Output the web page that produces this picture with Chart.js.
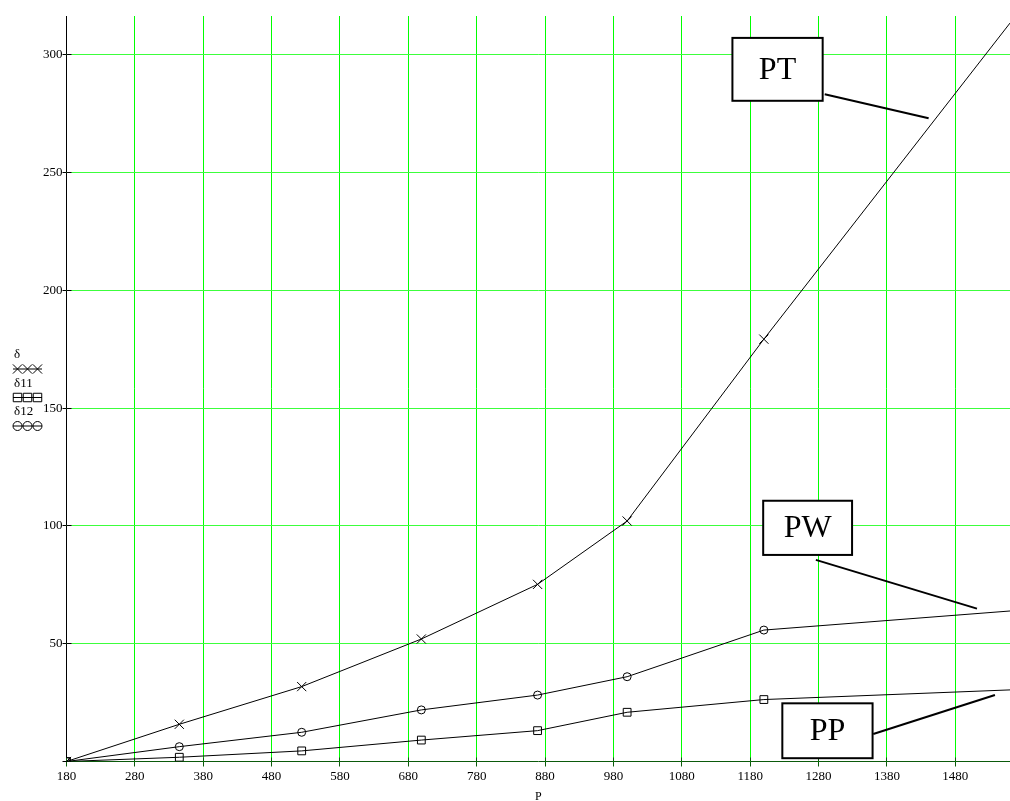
<!DOCTYPE html>
<html>
<head>
<meta charset="utf-8">
<script src="https://cdn.jsdelivr.net/npm/chart.js@4.4.1/dist/chart.umd.min.js"></script>
<style>
  html, body { margin: 0; padding: 0; background: #fff; overflow: hidden; }
  #wrap { width: 1010px; height: 801px; }
  canvas { display: block; }
</style>
</head>
<body>
<div id="wrap"><canvas id="myChart" width="1010" height="801"></canvas></div>
<script>
// P values; the last one is where the curves run out of the frame (no marker there)
const pValues = [180, 345, 524, 699, 869, 1000, 1200, 1560];
const delta   = [0, 15.8, 31.8, 52.0, 75.2, 102.1, 179.3, 313.5];
const delta11 = [0, 1.8, 4.5, 9.1, 13.1, 20.9, 26.3, 30.4];
const delta12 = [0, 6.3, 12.4, 21.9, 28.2, 36.0, 55.8, 63.9];
const markedCount = 7;

const seriesNames = ['δ', 'δ11', 'δ12'];
const xTicks = [180, 280, 380, 480, 580, 680, 780, 880, 980, 1080, 1180, 1280, 1380, 1480];
const yTicks = [0, 50, 100, 150, 200, 250, 300];
const xRange = [180, 1560];
const yRange = [0, 316.5];

// callouts: label, box (x1, y1, x2, y2) and leader line (x1, y1, x2, y2), in data units
const calloutLabels = ['PT', 'PW', 'PP'];
const calloutBoxes = [[1154, 307.2, 1286, 280.5], [1199, 110.7, 1329, 87.7], [1227, 24.7, 1359, 1.4]];
const calloutLeaders = [[1289, 283.3, 1441, 273.1], [1276, 85.6, 1511.7, 64.9], [1360, 11.7, 1538, 28.2]];

const serif = "'Liberation Serif', 'Times New Roman', serif";
const gridGreenV = '#00ff00';
const gridGreenH = '#3cff3c';
const axisGreen = '#0b5a0b';
const none = 'rgba(0,0,0,0)';

const markers = [
  { pointStyle: 'crossRot', radius: 6.5 },
  { pointStyle: 'rect', radius: 5.5 },
  { pointStyle: 'circle', radius: 4 }
];

function series(values, i) {
  return {
    label: seriesNames[i],
    data: pValues.map((p, k) => ({ x: p, y: values[k] })),
    borderColor: '#000',
    borderWidth: 1,
    tension: 0,
    pointStyle: markers[i].pointStyle,
    pointRadius: pValues.map((p, k) => k < markedCount ? markers[i].radius : 0),
    pointBorderColor: '#000',
    pointBorderWidth: 1,
    pointBackgroundColor: none,
    fill: false
  };
}

const al = v => Math.round(v - 0.5) + 0.5;

// green grid plus the short tick marks on the inside of the axes
const gridAndTicks = {
  id: 'gridAndTicks',
  beforeDatasetsDraw(chart) {
    const { ctx, chartArea, scales: { x, y } } = chart;
    ctx.save();
    ctx.lineWidth = 1;
    ctx.strokeStyle = gridGreenV;
    xTicks.slice(1).forEach(v => {
      const px = al(x.getPixelForValue(v));
      ctx.beginPath();
      ctx.moveTo(px, chartArea.top);
      ctx.lineTo(px, chartArea.bottom);
      ctx.stroke();
    });
    ctx.strokeStyle = gridGreenH;
    yTicks.slice(1).forEach(v => {
      const py = al(y.getPixelForValue(v));
      ctx.beginPath();
      ctx.moveTo(chartArea.left, py);
      ctx.lineTo(chartArea.right, py);
      ctx.stroke();
    });
    ctx.strokeStyle = axisGreen;
    xTicks.forEach(v => {
      const px = al(x.getPixelForValue(v));
      ctx.beginPath();
      ctx.moveTo(px, chartArea.bottom);
      ctx.lineTo(px, chartArea.bottom - 4);
      ctx.stroke();
    });
    ctx.strokeStyle = '#000';
    yTicks.slice(1).forEach(v => {
      const py = al(y.getPixelForValue(v));
      ctx.beginPath();
      ctx.moveTo(chartArea.left, py);
      ctx.lineTo(chartArea.left + 5, py);
      ctx.stroke();
    });
    ctx.restore();
  }
};

function marker(ctx, style, cx, cy, r) {
  ctx.beginPath();
  if (style === 'crossRot') {
    const d = r * Math.SQRT1_2;
    ctx.moveTo(cx - d, cy - d); ctx.lineTo(cx + d, cy + d);
    ctx.moveTo(cx - d, cy + d); ctx.lineTo(cx + d, cy - d);
  } else if (style === 'rect') {
    const d = r * Math.SQRT1_2;
    ctx.rect(cx - d, cy - d, 2 * d, 2 * d);
  } else {
    ctx.arc(cx, cy, r, 0, Math.PI * 2);
  }
  ctx.stroke();
}

const callouts = {
  id: 'callouts',
  afterDatasetsDraw(chart) {
    const { ctx, scales: { x, y } } = chart;
    ctx.save();
    calloutLabels.forEach((label, i) => {
      const b = calloutBoxes[i], l = calloutLeaders[i];
      ctx.lineWidth = 2;
      ctx.strokeStyle = '#000';
      ctx.beginPath();
      ctx.moveTo(x.getPixelForValue(l[0]), y.getPixelForValue(l[1]));
      ctx.lineTo(x.getPixelForValue(l[2]), y.getPixelForValue(l[3]));
      ctx.stroke();
      const x1 = x.getPixelForValue(b[0]), y1 = y.getPixelForValue(b[1]);
      const x2 = x.getPixelForValue(b[2]), y2 = y.getPixelForValue(b[3]);
      ctx.fillStyle = '#fff';
      ctx.fillRect(x1, y1, x2 - x1, y2 - y1);
      ctx.strokeRect(x1, y1, x2 - x1, y2 - y1);
      ctx.fillStyle = '#000';
      ctx.font = '32px ' + serif;
      ctx.textAlign = 'center';
      ctx.textBaseline = 'middle';
      ctx.fillText(label, (x1 + x2) / 2, (y1 + y2) / 2 + 1);
    });
    ctx.restore();
  }
};

// y axis title: names stacked with their trace samples
const yTitle = {
  id: 'yTitle',
  afterDraw(chart) {
    const ctx = chart.ctx;
    ctx.save();
    ctx.font = '13px ' + serif;
    ctx.textAlign = 'left';
    ctx.textBaseline = 'middle';
    ctx.fillStyle = '#000';
    ctx.strokeStyle = '#000';
    ctx.lineWidth = 1;
    seriesNames.forEach((name, i) => {
      const top = 355 + i * 28.5;
      ctx.fillText(name, 14, top);
      const sy = top + 14;
      ctx.beginPath();
      ctx.moveTo(13, sy);
      ctx.lineTo(42, sy);
      ctx.stroke();
      [17.5, 27.5, 37.5].forEach(sx => marker(ctx, markers[i].pointStyle, sx, sy, i === 0 ? 6.5 : i === 1 ? 6 : 4.5));
    });
    ctx.restore();
  }
};

const ctx = document.getElementById('myChart').getContext('2d');
new Chart(ctx, {
  type: 'line',
  data: {
    datasets: [series(delta, 0), series(delta11, 1), series(delta12, 2)]
  },
  options: {
    responsive: false,
    animation: false,
    devicePixelRatio: 1,
    layout: { autoPadding: false, padding: { top: 16, right: 0, left: 0, bottom: 0 } },
    plugins: { legend: { display: false }, tooltip: { enabled: false } },
    scales: {
      x: {
        type: 'linear',
        min: xRange[0],
        max: xRange[1],
        afterBuildTicks: s => { s.ticks = xTicks.map(v => ({ value: v })); },
        afterFit: s => { s.height = 39.5; s.paddingLeft = 0; s.paddingRight = 0; },
        grid: {
          drawOnChartArea: false,
          tickColor: axisGreen,
          tickLength: 5,
          lineWidth: 1
        },
        border: { color: axisGreen, width: 1 },
        ticks: {
          font: { family: serif, size: 13 },
          color: '#000',
          maxRotation: 0,
          autoSkip: false,
          padding: 2,
          callback: v => String(v)
        },
        title: {
          display: true,
          text: 'P',
          color: '#000',
          font: { family: serif, size: 12, lineHeight: 1 },
          padding: { top: 0, bottom: -2 }
        }
      },
      y: {
        type: 'linear',
        min: yRange[0],
        max: yRange[1],
        afterBuildTicks: s => { s.ticks = yTicks.map(v => ({ value: v })); },
        afterFit: s => { s.width = 66.5; s.paddingTop = 0; s.paddingBottom = 0; },
        grid: {
          drawOnChartArea: false,
          tickColor: '#000',
          tickLength: 4,
          lineWidth: 1
        },
        border: { color: '#000', width: 1 },
        ticks: {
          font: { family: serif, size: 13 },
          color: '#000',
          padding: 0,
          callback: v => v === 0 ? '' : String(v)
        }
      }
    }
  },
  plugins: [gridAndTicks, callouts, yTitle]
});
</script>
</body>
</html>
